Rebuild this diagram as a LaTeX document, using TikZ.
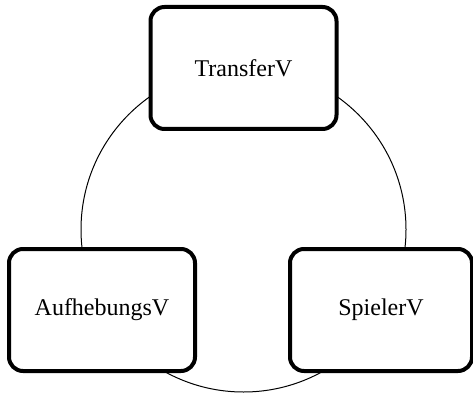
\documentclass[tikz,border=0pt]{standalone}
\usepackage{fontspec}
\setmainfont{Liberation Serif}
\begin{document}
\begin{tikzpicture}[x=1pt,y=-1pt]
\tikzset{vbox/.style={draw,line width=4pt,rounded corners=14pt,fill=white,
  minimum width=186pt,minimum height=122pt,font=\fontsize{24}{28}\selectfont}}
\useasboundingbox (0,0) rectangle (473,395);
%ring behind the boxes
\coordinate (ring) at (243.5,229.5);
\draw[line width=1pt] (ring) circle (162.5pt);
%boxes
\node[vbox] (transfer) at (243.5,68) {TransferV};
\node[vbox] (aufhebung) at (102,310) {AufhebungsV};
\node[vbox,minimum width=182pt] (spieler) at (381,310) {SpielerV};
\end{tikzpicture}
\end{document}
